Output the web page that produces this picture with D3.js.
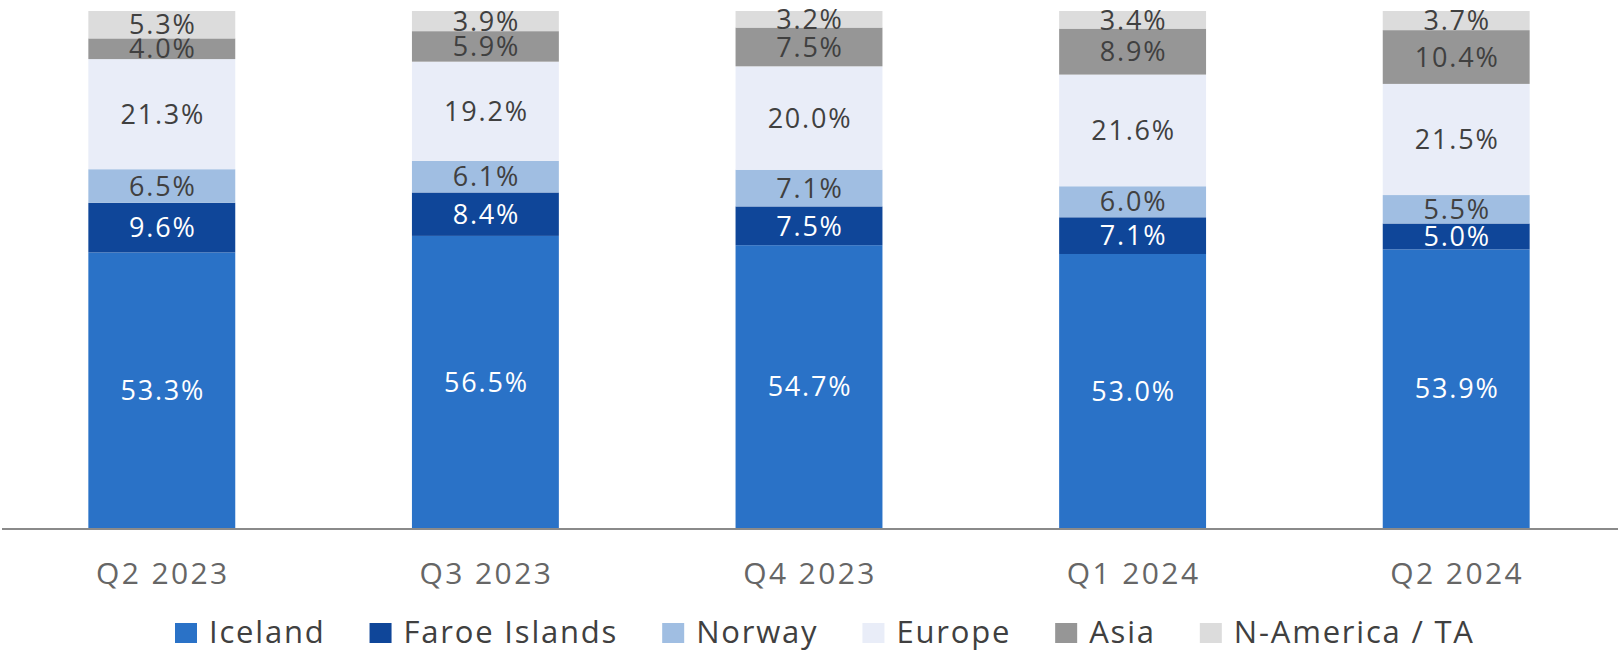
<!DOCTYPE html>
<meta charset="utf-8">
<script src="https://d3js.org/d3.v7.min.js"></script>
<style>
  body { margin: 0; background: #fff; }
  text { font-family: "Open Sans", sans-serif; }
</style>
<div id="chart"></div>
<script>

// categories and series
var quarters = ["Q2 2023", "Q3 2023", "Q4 2023", "Q1 2024", "Q2 2024"];
var regions = ["Iceland", "Faroe Islands", "Norway", "Europe", "Asia", "N-America / TA"];

var iceland  = [53.3, 56.5, 54.7, 53.0, 53.9];
var faroe    = [9.6, 8.4, 7.5, 7.1, 5.0];
var norway   = [6.5, 6.1, 7.1, 6.0, 5.5];
var europe   = [21.3, 19.2, 20.0, 21.6, 21.5];
var asia     = [4.0, 5.9, 7.5, 8.9, 10.4];
var namerica = [5.3, 3.9, 3.2, 3.4, 3.7];

var colors = ["#2a72c7", "#0f4699", "#a0bee2", "#e9edf8", "#969696", "#dcdcdc"];
var labelColors = ["#ffffff", "#ffffff", "#404040", "#404040", "#404040", "#404040"];

var series = [iceland, faroe, norway, europe, asia, namerica];

// table for the stack
var rows = quarters.map(function(q, i) {
  var r = {quarter: q};
  regions.forEach(function(k, j) { r[k] = series[j][i]; });
  return r;
});

var width = 1618, height = 652;

var svg = d3.select("#chart")
  .append("svg")
    .attr("width", width)
    .attr("height", height);

var x = d3.scaleBand()
  .domain(quarters)
  .range([0, width])
  .paddingInner(0.546)
  .paddingOuter(0.273);

var y = d3.scaleLinear()
  .domain([0, 100])
  .range([528, 11]);

var stacked = d3.stack().keys(regions)(rows);

var layer = svg.selectAll(".layer")
  .data(stacked)
  .enter().append("g")
    .attr("class", "layer")
    .attr("fill", function(d, i) { return colors[i]; });

layer.selectAll("rect")
  .data(function(d) { return d; })
  .enter().append("rect")
    .attr("x", function(d) { return x(d.data.quarter); })
    .attr("y", function(d) { return y(d[1]); })
    .attr("width", x.bandwidth())
    .attr("height", function(d) { return y(d[0]) - y(d[1]); });

// value labels (centred in each segment, Excel style)
layer.each(function(s, i) {
  d3.select(this).selectAll("text")
    .data(s)
    .enter().append("text")
      .attr("x", function(d) { return x(d.data.quarter) + x.bandwidth() / 2 + 1; })
      .attr("y", function(d) { return (y(d[0]) + y(d[1])) / 2; })
      .attr("dy", "0.36em")
      .attr("text-anchor", "middle")
      .style("font-size", "27px")
      .style("letter-spacing", "1.8px")
      .attr("fill", labelColors[i])
      .text(function(d) { return d3.format(".1f")(d[1] - d[0]) + "%"; });
});

// x axis
svg.append("line")
  .attr("x1", 2).attr("x2", width)
  .attr("y1", y(0) + 1).attr("y2", y(0) + 1)
  .attr("stroke", "#8a8a8a")
  .attr("stroke-width", 2);

svg.selectAll(".xlab")
  .data(quarters)
  .enter().append("text")
    .attr("class", "xlab")
    .attr("x", function(d) { return x(d) + x.bandwidth() / 2 + 1; })
    .attr("y", 584)
    .attr("text-anchor", "middle")
    .style("font-size", "30px")
    .style("letter-spacing", "2.4px")
    .attr("fill", "#666666")
    .text(function(d) { return d; });

// legend
var legend = svg.append("g").attr("transform", "translate(175,0)");
var lx = 0;
regions.forEach(function(k, i) {
  var g = legend.append("g").attr("transform", "translate(" + lx + ",0)");
  g.append("rect")
    .attr("x", 0).attr("y", 623)
    .attr("width", 22).attr("height", 20)
    .attr("fill", colors[i]);
  var t = g.append("text")
    .attr("x", 34).attr("y", 643)
    .style("font-size", "31px")
    .style("letter-spacing", "1.8px")
    .attr("fill", "#404040")
    .text(k);
  lx += 34 + t.node().getComputedTextLength() + 44;
});

</script>
